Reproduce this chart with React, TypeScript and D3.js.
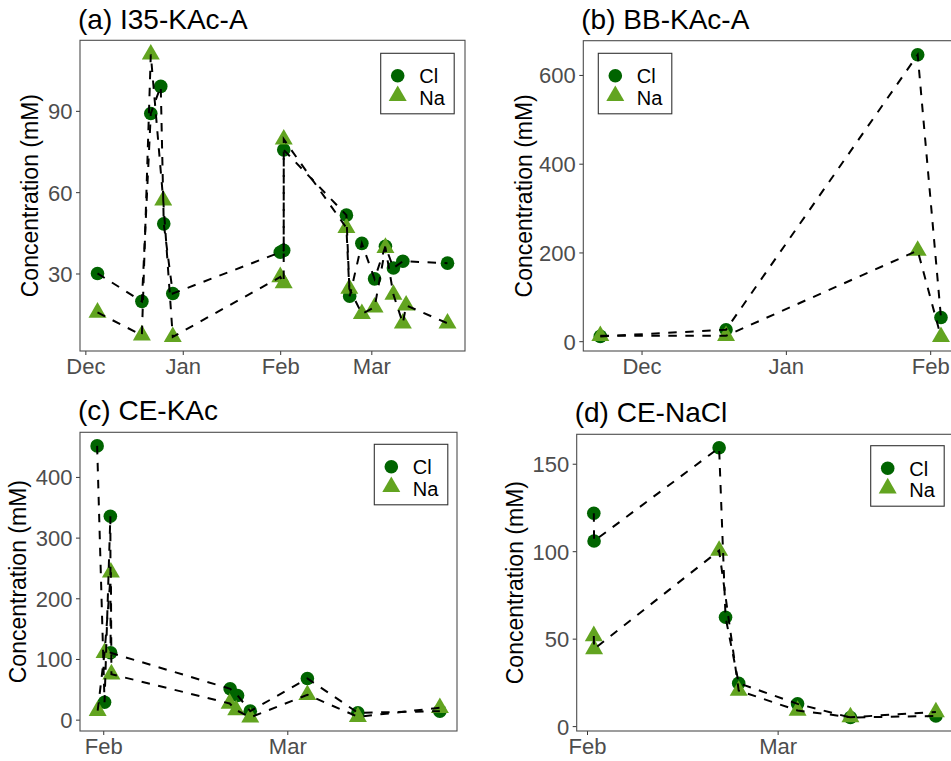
import React from "react";
import * as d3 from "d3";

// ---------- Data ----------
// (a) I35-KAc-A
const aClDates = ["2019-12-04 17:00", "2019-12-18 20:00", "2019-12-21 16:00", "2019-12-24 20:00", "2019-12-25 19:00", "2019-12-28 16:00", "2020-01-31 21:00", "2020-02-01 23:00", "2020-02-01 23:30", "2020-02-21 22:00", "2020-02-22 23:00", "2020-02-26 20:00", "2020-03-01 21:00", "2020-03-05 08:00", "2020-03-07 21:00", "2020-03-10 21:00", "2020-03-25 02:00"];
const aClValues = [30.2, 19.9, 89.2, 99.2, 48.5, 22.8, 38.0, 38.7, 75.8, 51.7, 21.8, 41.3, 28.2, 40.2, 32.2, 34.7, 34.0];
const aNaDates = ["2019-12-04 17:00", "2019-12-18 20:00", "2019-12-21 16:00", "2019-12-25 15:00", "2019-12-28 16:00", "2020-01-31 21:00", "2020-02-01 23:00", "2020-02-01 23:30", "2020-02-21 22:00", "2020-02-22 20:00", "2020-02-26 20:00", "2020-03-01 21:00", "2020-03-05 08:00", "2020-03-07 21:00", "2020-03-10 21:00", "2020-03-11 22:00", "2020-03-25 02:00"];
const aNaValues = [15.8, 7.4, 111.0, 57.2, 6.8, 28.9, 26.7, 79.7, 47.0, 24.6, 15.3, 17.7, 39.7, 22.4, 11.8, 18.4, 11.8];
const aYTicks = [30, 60, 90];

// (b) BB-KAc-A
const bClDates = ["2019-11-22 01:00", "2019-12-19 01:00", "2020-01-29 05:00", "2020-02-03 05:00"];
const bClValues = [11.9, 27, 646.5, 54.6];
const bNaDates = ["2019-11-22 01:00", "2019-12-19 01:00", "2020-01-29 05:00", "2020-02-03 05:00"];
const bNaValues = [13.3, 13.3, 205.4, 10.8];
const bYTicks = [0, 200, 400, 600];

// (c) CE-KAc
const cClDates = ["2020-01-30 23:00", "2020-02-01 03:00", "2020-02-02 01:00", "2020-02-02 02:00", "2020-02-20 22:00", "2020-02-22 02:00", "2020-02-24 02:00", "2020-03-04 02:00", "2020-03-12 01:00", "2020-03-24 23:00"];
const cClValues = [452, 29.6, 336, 111, 51.7, 40.7, 14.8, 68.6, 12.2, 14.8];
const cNaDates = ["2020-01-31 01:00", "2020-02-01 03:00", "2020-02-02 03:00", "2020-02-02 05:00", "2020-02-20 20:00", "2020-02-21 21:00", "2020-02-24 02:00", "2020-03-04 02:00", "2020-03-12 01:00", "2020-03-24 23:00"];
const cNaValues = [15.6, 111, 243.6, 75.7, 27.5, 16.6, 4.5, 41.8, 5.5, 20.4];
const cYTicks = [0, 100, 200, 300, 400];

// (d) CE-NaCl
const dClDates = ["2020-02-01 23:00", "2020-02-02 00:00", "2020-02-21 00:30", "2020-02-22 00:00", "2020-02-24 00:00", "2020-03-03 23:00", "2020-03-12 00:00", "2020-03-25 00:00"];
const dClValues = [122.0, 106.1, 159.4, 62.5, 24.8, 13.0, 5.2, 6.1];
const dNaDates = ["2020-02-01 23:00", "2020-02-02 00:00", "2020-02-21 00:30", "2020-02-24 00:00", "2020-03-03 23:00", "2020-03-12 00:00", "2020-03-25 00:00"];
const dNaValues = [51.8, 44.4, 100.6, 20.6, 9.2, 5.4, 8.3];
const dYTicks = [0, 50, 100, 150];

const seriesNames = ["Cl", "Na"];
const titles = ["(a) I35-KAc-A", "(b) BB-KAc-A", "(c) CE-KAc", "(d) CE-NaCl"];
const yAxisTitle = "Concentration (mM)";

// ---------- Styles / layout ----------
const FONT = "'Liberation Sans', Arial, Helvetica, sans-serif";
const CL_COLOR = "#006400";
const NA_COLOR = "#62A420";
const FRAME = "#4d4d4d";
const TICK_TEXT = "#4d4d4d";

const parse = d3.timeParse("%Y-%m-%d %H:%M");

type Layout = {
  left: number; right: number; top: number; bottom: number;
  titleX: number; titleY: number; yTitleX: number;
  legendX: number; legendY: number;
};

const layouts: Layout[] = [
  { left: 80, right: 465, top: 40.3, bottom: 351, titleX: 78, titleY: 29, yTitleX: 32.5, legendX: 380.7, legendY: 53.3 },
  { left: 583.3, right: 958, top: 40.7, bottom: 351, titleX: 581.3, titleY: 29, yTitleX: 525.8, legendX: 598.3, legendY: 53.3 },
  { left: 80, right: 457, top: 432.3, bottom: 731, titleX: 78, titleY: 419.5, yTitleX: 20.5, legendX: 374.3, legendY: 444.3 },
  { left: 576.7, right: 953, top: 434.3, bottom: 731, titleX: 574.7, titleY: 422, yTitleX: 516.7, legendX: 870.7, legendY: 445.7 },
];

const panelData = [
  { clD: aClDates, clV: aClValues, naD: aNaDates, naV: aNaValues, yTicks: aYTicks },
  { clD: bClDates, clV: bClValues, naD: bNaDates, naV: bNaValues, yTicks: bYTicks },
  { clD: cClDates, clV: cClValues, naD: cNaDates, naV: cNaValues, yTicks: cYTicks },
  { clD: dClDates, clV: dClValues, naD: dNaDates, naV: dNaValues, yTicks: dYTicks },
];

const R = 6.8;
const triPath = d3.symbol().type(d3.symbolTriangle).size(140)() as string;
const fmtMonth = d3.timeFormat("%b");

function Panel({ idx }: { idx: number }) {
  const L = layouts[idx];
  const D = panelData[idx];
  const cl = D.clD.map((d, i) => ({ date: parse(d) as Date, value: D.clV[i] }));
  const na = D.naD.map((d, i) => ({ date: parse(d) as Date, value: D.naV[i] }));
  const all = [...cl, ...na];
  const [t0, t1] = d3.extent(all, (p) => +p.date) as [number, number];
  const [v0, v1] = d3.extent(all, (p) => p.value) as [number, number];
  const tSpan = t1 - t0;
  const vSpan = v1 - v0;
  const x = d3.scaleTime().domain([new Date(t0 - 0.05 * tSpan), new Date(t1 + 0.05 * tSpan)]).range([L.left, L.right]);
  const y = d3.scaleLinear().domain([v0 - 0.05 * vSpan, v1 + 0.05 * vSpan]).range([L.bottom, L.top]);
  const line = d3.line<{ date: Date; value: number }>().x((p) => x(p.date)).y((p) => y(p.value));
  const [dx0, dx1] = x.domain();
  const months = d3.timeMonth.range(d3.timeMonth.ceil(dx0), dx1);
  const midY = (L.top + L.bottom) / 2;
  const clipId = `clip-${idx}`;

  return (
    <g>
      <defs>
        <clipPath id={clipId}>
          <rect x={L.left} y={L.top} width={L.right - L.left} height={L.bottom - L.top} />
        </clipPath>
      </defs>
      <text x={L.titleX} y={L.titleY} fontSize={28} fontFamily={FONT} fill="#000">{titles[idx]}</text>
      <text
        transform={`translate(${L.yTitleX + 23 * 0.26},${midY}) rotate(-90)`}
        textAnchor="middle" fontSize={23} fontFamily={FONT} fill="#000"
      >{yAxisTitle}</text>
      {D.yTicks.map((t) => (
        <g key={`y${t}`}>
          <line x1={L.left - 4} x2={L.left} y1={y(t)} y2={y(t)} stroke="#333" strokeWidth={1} />
          <text x={L.left - 7.5} y={y(t) + 8} textAnchor="end" fontSize={22} fontFamily={FONT} fill={TICK_TEXT}>{t}</text>
        </g>
      ))}
      {months.map((m) => (
        <g key={`x${+m}`}>
          <line x1={x(m)} x2={x(m)} y1={L.bottom} y2={L.bottom + 4} stroke="#333" strokeWidth={1} />
          <text x={x(m)} y={L.bottom + 23} textAnchor="middle" fontSize={22} fontFamily={FONT} fill={TICK_TEXT}>{fmtMonth(m)}</text>
        </g>
      ))}
      <g clipPath={`url(#${clipId})`}>
        {cl.map((p, i) => (
          <circle key={`c${i}`} cx={x(p.date)} cy={y(p.value)} r={R} fill={CL_COLOR} />
        ))}
        {na.map((p, i) => (
          <path key={`t${i}`} d={triPath} transform={`translate(${x(p.date)},${y(p.value)})`} fill={NA_COLOR} />
        ))}
        <path d={line(cl) as string} fill="none" stroke="#000" strokeWidth={2} strokeDasharray="8.5 8.5" />
        <path d={line(na) as string} fill="none" stroke="#000" strokeWidth={2} strokeDasharray="8.5 8.5" />
      </g>
      <rect x={L.left} y={L.top} width={L.right - L.left} height={L.bottom - L.top} fill="none" stroke={FRAME} strokeWidth={1.1} />
      <g transform={`translate(${L.legendX},${L.legendY})`}>
        <rect x={0} y={0} width={73.5} height={60.5} fill="#fff" stroke="#333" strokeWidth={1.1} />
        <circle cx={17} cy={22.5} r={R} fill={CL_COLOR} />
        <path d={triPath} transform="translate(17,42.5)" fill={NA_COLOR} />
        <text x={38.5} y={30.2} fontSize={20} fontFamily={FONT} fill="#000">{seriesNames[0]}</text>
        <text x={38.5} y={51.7} fontSize={20} fontFamily={FONT} fill="#000">{seriesNames[1]}</text>
      </g>
    </g>
  );
}

export default function App() {
  return (
    <svg
      width={951}
      height={761}
      viewBox="0 0 951 761"
      style={{ position: "absolute", left: 0, top: 0, display: "block", background: "#fff" }}
    >
      <rect x={0} y={0} width={951} height={761} fill="#fff" />
      {[0, 1, 2, 3].map((i) => (
        <Panel key={i} idx={i} />
      ))}
    </svg>
  );
}
